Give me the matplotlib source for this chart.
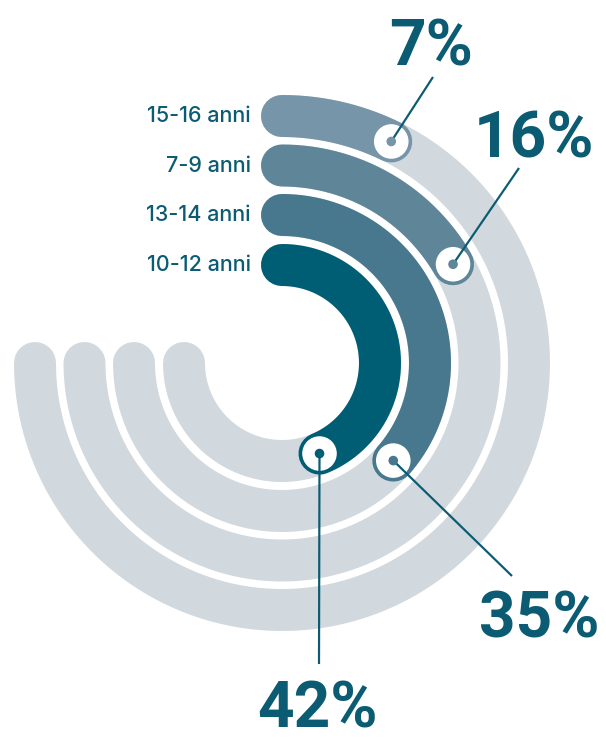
import numpy as np
import matplotlib.pyplot as plt
from matplotlib.patches import Circle

# ------------------------------- Data ----------------------------------------

age_groups = ['15-16 anni', '7-9 anni', '13-14 anni', '10-12 anni']
shares = [7, 16, 35, 42]
share_labels = ['7%', '16%', '35%', '42%']
ring_colors = ['#7795a8', '#5f8599', '#47788d', '#005e74']

# ------------------------------- Layout --------------------------------------

W, H = 606, 740
cx, cy = 282, 363            # ring centre (pixels)
radii = [247, 197.5, 148, 98]
ring_w = 42                  # ring thickness (pixels)
track_deg = 270              # grey background track
deg_per_pct = 3.75
text_col = '#0b5c73'
track_col = '#d2d9de'

# where the value labels and the ends of their leader lines sit
label_pos = [(431, 65), (534, 158), (539, 638), (318, 727)]
leader_end = [(433, 77), (519, 168), (512, 576), (319, 664)]

px2pt = 72 / 100


def arc_xy(r, deg_from, deg_to, n=300):
    t = np.radians(np.linspace(deg_from, deg_to, n))
    return cx + r * np.sin(t), cy - r * np.cos(t)


fig = plt.figure(figsize=(W / 100, H / 100), dpi=100)
ax = fig.add_axes([0, 0, 1, 1])
ax.set_xlim(0, W)
ax.set_ylim(H, 0)
ax.axis('off')

lw = ring_w * px2pt

# grey tracks
for r in radii:
    x, y = arc_xy(r, 0, track_deg)
    ax.plot(x, y, color=track_col, lw=lw, solid_capstyle='round', zorder=1)

# coloured bars, end markers and value labels
for i, (r, v, c) in enumerate(zip(radii, shares, ring_colors)):
    end = v * deg_per_pct
    x, y = arc_xy(r, 0, end)
    ax.plot(x, y, color=c, lw=lw, solid_capstyle='round', zorder=2 + i)

    ex, ey = x[-1], y[-1]
    ax.add_patch(Circle((ex, ey), 18.5, facecolor='white', edgecolor=c,
                        lw=2.4 * px2pt, zorder=10 + i))
    ax.add_patch(Circle((ex, ey), 4.8, facecolor=c, edgecolor='none', zorder=20))

    lx, ly = leader_end[i]
    ax.plot([ex, lx], [ey, ly], color=text_col, lw=2.2 * px2pt,
            solid_capstyle='butt', zorder=19)

    tx, ty = label_pos[i]
    ax.text(tx, ty, share_labels[i], ha='center', va='baseline',
            fontsize=46, fontweight='bold', family=['Roboto', 'DejaVu Sans'],
            color=text_col, zorder=30)

    # category label at the start of each bar
    ax.text(251, cy - r, age_groups[i], ha='right', va='center',
            fontsize=15.5, fontweight='medium', family=['Inter', 'DejaVu Sans'],
            color=text_col, zorder=30)

fig.savefig('out.png', dpi=100, facecolor='white')
